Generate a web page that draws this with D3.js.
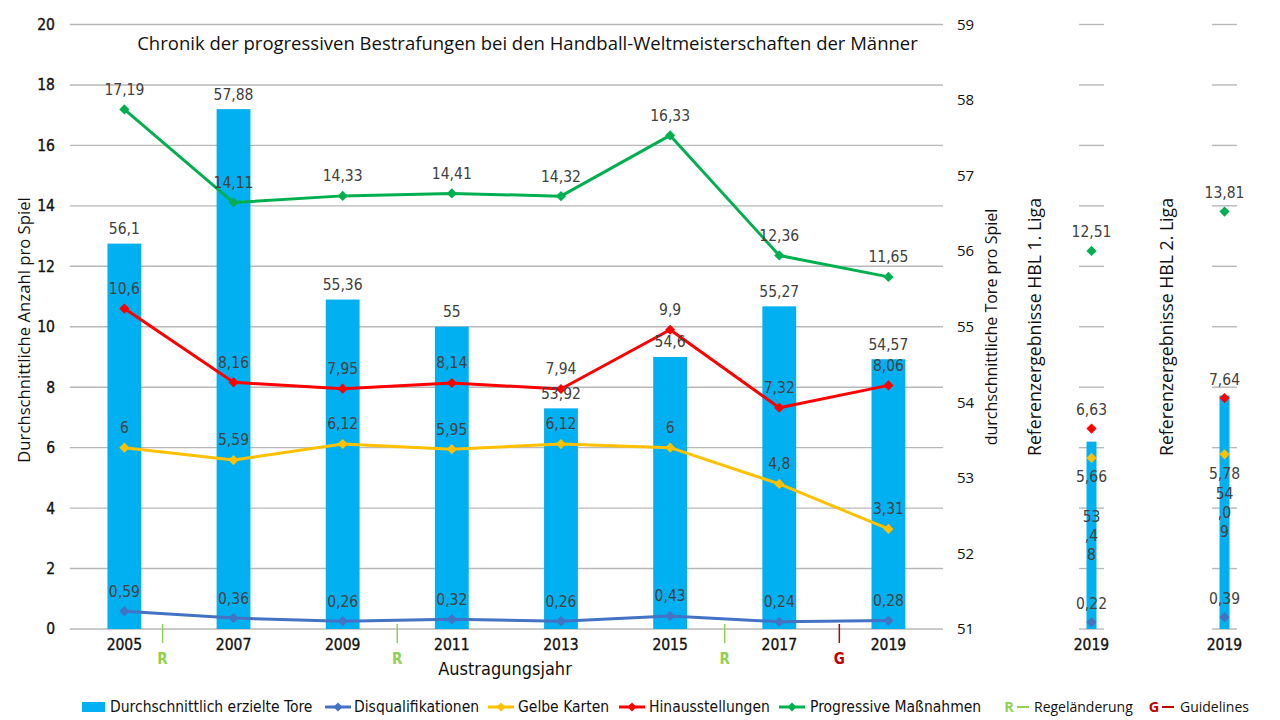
<!DOCTYPE html>
<html><head><meta charset="utf-8">
<script src="https://cdn.jsdelivr.net/npm/d3@7"></script>
<style>body{margin:0;background:#fff} svg{display:block}</style>
</head><body>
<svg id="c" width="1280" height="720"></svg>
<script>
// ---------- data ----------
const years = ["2005","2007","2009","2011","2013","2015","2017","2019"];
const goals = [56.1,57.88,55.36,55,53.92,54.6,55.27,54.57];
const disqualifications = [0.59,0.36,0.26,0.32,0.26,0.43,0.24,0.28];
const yellowCards = [6,5.59,6.12,5.95,6.12,6,4.8,3.31];
const suspensions = [10.6,8.16,7.95,8.14,7.94,9.9,7.32,8.06];
const progressive = [17.19,14.11,14.33,14.41,14.32,16.33,12.36,11.65];
const leftTicks = [0,2,4,6,8,10,12,14,16,18,20];
const rightTicks = [51,52,53,54,55,56,57,58,59];
const refTitles = ["Referenzergebnisse HBL 1. Liga","Referenzergebnisse HBL 2. Liga"];
const refYear = "2019";
const refGoals = [53.48,54.09];
const refDisq = [0.22,0.39];
const refYellow = [5.66,5.78];
const refSusp = [6.63,7.64];
const refProg = [12.51,13.81];
const markerLabels = ["R","R","R","G"];
const markerYears = [2005.7,2010,2016,2018.1];
const title = "Chronik der progressiven Bestrafungen bei den Handball-Weltmeisterschaften der Männer";
const leftTitle = "Durchschnittliche Anzahl pro Spiel";
const rightTitle = "durchschnittliche Tore pro Spiel";
const xTitle = "Austragungsjahr";
const barName = "Durchschnittlich erzielte Tore";
const lineNames = ["Disqualifikationen","Gelbe Karten","Hinausstellungen","Progressive Maßnahmen"];
const markerNames = ["Regeländerung","Guidelines"];

// ---------- styles ----------
const C = {bar:"#00B0F0", disq:"#4472C4", yellow:"#FFC000", red:"#FF0000", green:"#00B050",
  R:"#92D050", G:"#C00000", grid:"#B8B8B8", label:"#404040", text:"#111111"};
const NARROW = "'Liberation Sans Narrow','DejaVu Sans Condensed',sans-serif";
const SANS = "'Open Sans','Noto Sans',sans-serif";
const lineSeries = [
  {name:lineNames[0], values:disqualifications, ref:refDisq, color:C.disq, refBelow:false},
  {name:lineNames[1], values:yellowCards, ref:refYellow, color:C.yellow, refBelow:true},
  {name:lineNames[2], values:suspensions, ref:refSusp, color:C.red, refBelow:false},
  {name:lineNames[3], values:progressive, ref:refProg, color:C.green, refBelow:false}
];
const fmt = v => String(v).replace(".", ",");

const svg = d3.select("#c");
const x = d3.scaleBand().domain(years).range([69.8, 943]).paddingInner(0.69).paddingOuter(0.345);
const cx = d => x(d) + x.bandwidth()/2;
const yL = d3.scaleLinear().domain([0,20]).range([629,24.5]);
const yR = d3.scaleLinear().domain([51,59]).range([629,24.5]);
const xYear = d3.scaleLinear().domain([2005,2019]).range([cx("2005"), cx("2019")]);

function diamond(g, px, py, color, s=7.2){
  g.append("rect").attr("x",-s/2).attr("y",-s/2).attr("width",s).attr("height",s)
   .attr("fill",color).attr("transform",`translate(${px},${py}) rotate(45)`);
}

// gridlines
const grid = svg.append("g");
grid.selectAll("line").data(leftTicks).join("line")
  .attr("x1",69.8).attr("x2",943).attr("y1",d=>yL(d)).attr("y2",d=>yL(d))
  .attr("stroke",C.grid).attr("stroke-width",1.4);

// left axis labels
svg.append("g").selectAll("text").data(leftTicks).join("text")
  .attr("x",55).attr("y",d=>yL(d)).attr("dy","0.35em").attr("text-anchor","end")
  .attr("font-family",NARROW).attr("font-size",15.5).attr("fill",C.text)
  .attr("stroke",C.text).attr("stroke-width",0.35).text(d=>d);
// right axis labels
svg.append("g").selectAll("text").data(rightTicks).join("text")
  .attr("x",957).attr("y",d=>yR(d)).attr("dy","0.35em").attr("text-anchor","start")
  .attr("font-family",SANS).attr("font-size",15).attr("fill",C.text).text(d=>d);

// bars
svg.append("g").selectAll("rect").data(years).join("rect")
  .attr("x",d=>x(d)).attr("width",x.bandwidth())
  .attr("y",(d,i)=>yR(goals[i])).attr("height",(d,i)=>yR(51)-yR(goals[i]))
  .attr("fill",C.bar);

// lines
const lineGen = d3.line().x((d,i)=>cx(years[i])).y(d=>yL(d));
lineSeries.forEach(s=>{
  svg.append("path").attr("d",lineGen(s.values)).attr("fill","none")
    .attr("stroke",s.color).attr("stroke-width",3).attr("stroke-linejoin","round");
  const g = svg.append("g");
  s.values.forEach((v,i)=>diamond(g,cx(years[i]),yL(v),s.color));
});

// labels
const lab = svg.append("g").attr("font-family",NARROW).attr("font-size",15.5).attr("fill",C.label).attr("text-anchor","middle");
goals.forEach((v,i)=>lab.append("text").attr("x",cx(years[i])).attr("y",yR(v)-15).attr("dy","0.35em").text(fmt(v)));
lineSeries.forEach(s=>s.values.forEach((v,i)=>
  lab.append("text").attr("x",cx(years[i])).attr("y",yL(v)-20).attr("dy","0.35em").text(fmt(v))));

// x tick labels
svg.append("g").selectAll("text").data(years).join("text")
  .attr("x",d=>cx(d)).attr("y",645).attr("dy","0.35em").attr("text-anchor","middle")
  .attr("font-family",NARROW).attr("font-size",15.5).attr("fill",C.text)
  .attr("stroke",C.text).attr("stroke-width",0.35).text(d=>d);

// R / G markers
markerYears.forEach((yv,i)=>{
  const col = markerLabels[i]==="R"?C.R:C.G;
  svg.append("line").attr("x1",xYear(yv)).attr("x2",xYear(yv)).attr("y1",624).attr("y2",643)
    .attr("stroke",col).attr("stroke-width",1.5);
  svg.append("text").attr("x",xYear(yv)).attr("y",659).attr("dy","0.35em").attr("text-anchor","middle")
    .attr("font-family",NARROW).attr("font-size",15).attr("font-weight","bold").attr("fill",col).text(markerLabels[i]);
});

// titles
svg.append("text").attr("x",527.5).attr("y",44).attr("dy","0.35em").attr("text-anchor","middle")
  .attr("font-family",SANS).attr("font-size",18.5).attr("fill",C.text).text(title);
svg.append("text").attr("transform","translate(24,330) rotate(-90)").attr("dy","0.35em").attr("text-anchor","middle")
  .attr("font-family",SANS).attr("font-size",16.7).attr("fill",C.text).text(leftTitle);
svg.append("text").attr("transform","translate(991,327) rotate(-90)").attr("dy","0.35em").attr("text-anchor","middle")
  .attr("font-family",SANS).attr("font-size",16).attr("fill",C.text).text(rightTitle);
svg.append("text").attr("x",505).attr("y",669).attr("dy","0.35em").attr("text-anchor","middle")
  .attr("font-family",NARROW).attr("font-size",18).attr("fill",C.text).text(xTitle);

// reference panels
const panelRanges = [[1079,1104],[1212,1237]];
const panelTitleX = [1035,1167];
panelRanges.forEach((r,p)=>{
  const px = d3.scaleBand().domain([refYear]).range(r).padding(0.43);
  const pcx = px(refYear)+px.bandwidth()/2;
  const g = svg.append("g");
  g.selectAll("line").data(leftTicks).join("line")
    .attr("x1",r[0]).attr("x2",r[1]).attr("y1",d=>yL(d)).attr("y2",d=>yL(d))
    .attr("stroke",C.grid).attr("stroke-width",1.4);
  g.append("rect").attr("x",px(refYear)).attr("width",px.bandwidth())
    .attr("y",yR(refGoals[p])).attr("height",yR(51)-yR(refGoals[p])).attr("fill",C.bar);
  lineSeries.forEach(s=>diamond(g,pcx,yL(s.ref[p]),s.color));
  const lg = g.append("g").attr("font-family",NARROW).attr("font-size",15.5).attr("fill",C.label).attr("text-anchor","middle");
  lineSeries.forEach(s=>lg.append("text").attr("x",pcx).attr("y",yL(s.ref[p])+(s.refBelow?19:-19)).attr("dy","0.35em").text(fmt(s.ref[p])));
  // wrapped bar label centered in bar
  const str = fmt(refGoals[p]);
  const parts = [str.slice(0,2), str.slice(2,4), str.slice(4)];
  const mid = (yR(refGoals[p])+yR(51))/2;
  parts.forEach((t,k)=>lg.append("text").attr("x",pcx).attr("y",mid+(k-1)*19).attr("dy","0.35em").text(t));
  g.append("text").attr("x",pcx).attr("y",645).attr("dy","0.35em").attr("text-anchor","middle")
    .attr("font-family",NARROW).attr("font-size",15.5).attr("fill",C.text)
    .attr("stroke",C.text).attr("stroke-width",0.35).text(refYear);
  g.append("text").attr("transform",`translate(${panelTitleX[p]},327) rotate(-90)`).attr("dy","0.35em").attr("text-anchor","middle")
    .attr("font-family",SANS).attr("font-size",17.7).attr("fill",C.text).text(refTitles[p]);
});

// legend
const leg = svg.append("g").attr("font-family",NARROW).attr("font-size",15.5).attr("fill",C.text);
const ly = 707;
leg.append("rect").attr("x",82).attr("y",ly-5).attr("width",23).attr("height",10).attr("fill",C.bar);
leg.append("text").attr("x",110).attr("y",ly).attr("dy","0.35em").text(barName);
const legX = [[325,354],[488,518],[619,649],[779,810]];
lineSeries.forEach((s,i)=>{
  const [mx,tx] = legX[i];
  leg.append("line").attr("x1",mx).attr("x2",mx+26).attr("y1",ly).attr("y2",ly).attr("stroke",s.color).attr("stroke-width",3);
  diamond(leg,mx+13,ly,s.color,6.5);
  leg.append("text").attr("x",tx).attr("y",ly).attr("dy","0.35em").text(s.name);
});
[[1009,C.R,"R",1034],[1154,C.G,"G",1180]].forEach(([mx,col,l,tx],i)=>{
  leg.append("text").attr("x",mx).attr("y",ly).attr("dy","0.35em").attr("text-anchor","middle")
    .attr("font-family",SANS).attr("font-weight","bold").attr("font-size",14.5).attr("fill",col).text(l);
  leg.append("line").attr("x1",mx+8).attr("x2",mx+20).attr("y1",ly).attr("y2",ly).attr("stroke",col).attr("stroke-width",2);
  leg.append("text").attr("x",tx).attr("y",ly).attr("dy","0.35em").attr("font-family",SANS).attr("font-size",14).text(markerNames[i]);
});
</script>
</body></html>
